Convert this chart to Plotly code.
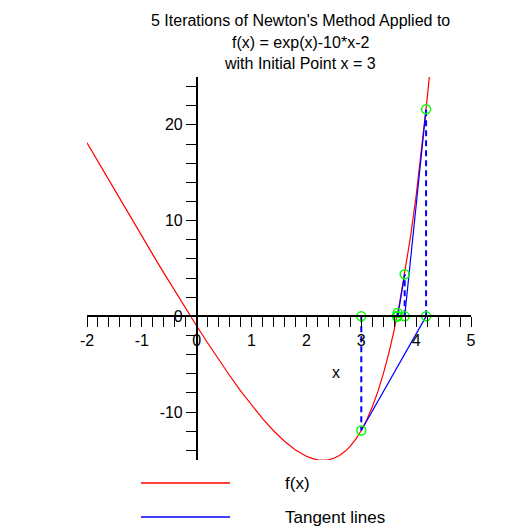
import plotly.graph_objects as go

# f(x) = exp(x) - 10x - 2, curve samples
curve_x = [-2.0, -1.8, -1.6, -1.4, -1.2, -1.0, -0.8, -0.6, -0.4, -0.2, 0.0,
           0.2, 0.4, 0.6, 0.8, 1.0, 1.2, 1.4, 1.6, 1.8, 2.0,
           2.1, 2.2, 2.3, 2.4, 2.5, 2.6, 2.7, 2.8, 2.9, 3.0,
           3.1, 3.2, 3.3, 3.4, 3.5, 3.6, 3.7, 3.8, 3.9, 4.0,
           4.1, 4.2, 4.24]
curve_y = [18.135, 16.165, 14.202, 12.247, 10.301, 8.368, 6.449, 4.549, 2.670, 0.819, -1.0,
           -2.779, -4.508, -6.178, -7.774, -9.282, -10.680, -11.945, -13.047, -13.950, -14.611,
           -14.834, -14.975, -15.026, -14.977, -14.818, -14.536, -14.120, -13.555, -12.826, -11.914,
           -10.802, -9.467, -7.887, -6.036, -3.884, -1.402, 1.447, 4.701, 8.402, 12.598,
           17.340, 22.686, 25.0]

# Newton iterates x0..x5 and f at each
iter_x = [3.0, 4.1813, 3.7911, 3.6630, 3.6510, 3.6509]
iter_f = [-11.914, 21.638, 4.393, 0.349, 0.0027, 0.0]

x_tick_vals = [-2, -1, 0, 1, 2, 3, 4, 5]
x_tick_text = ["-2", "-1", "0", "1", "2", "3", "4", "5"]
y_tick_vals = [-10, 0, 10, 20]
y_tick_text = ["-10", "0", "10", "20"]

title_lines = ["5 Iterations of Newton's Method Applied to",
               "f(x) = exp(x)-10*x-2",
               "with Initial Point x = 3"]
legend_labels = ["f(x)", "Tangent lines"]

RED = "#ff0000"
BLUE = "#0000ff"
GREEN = "#00ff00"

fig = go.Figure()

fig.add_trace(go.Scatter(x=curve_x, y=curve_y, mode="lines",
                         line=dict(color=RED, width=1.2), showlegend=False))

# tangent lines: (x_n, f(x_n)) -> (x_{n+1}, 0)
tx, ty = [], []
for i in range(len(iter_x) - 1):
    tx += [iter_x[i], iter_x[i + 1], None]
    ty += [iter_f[i], 0, None]
fig.add_trace(go.Scatter(x=tx, y=ty, mode="lines",
                         line=dict(color=BLUE, width=1.2), showlegend=False))

# vertical dashed lines (x_n, 0) -> (x_n, f(x_n))
vx, vy = [], []
for i in range(len(iter_x) - 1):
    vx += [iter_x[i], iter_x[i], None]
    vy += [0, iter_f[i], None]
fig.add_trace(go.Scatter(x=vx, y=vy, mode="lines",
                         line=dict(color=BLUE, width=2, dash="6px,4px"), showlegend=False))

# points
px, py = [], []
for i in range(len(iter_x)):
    px += [iter_x[i], iter_x[i]]
    py += [0, iter_f[i]]
fig.add_trace(go.Scatter(x=px, y=py, mode="markers",
                         marker=dict(symbol="circle-open", color=GREEN, size=9,
                                     line=dict(width=1.5, color=GREEN)),
                         showlegend=False))

# page body has an 8px margin; work in window pixels and shift
O = 8
W = H = 520
L = 87 - O
T = 77 - O
pw = 471 - 87
ph = 460 - 77
R = W - L - pw
B = H - T - ph

def px2x(p):
    return (p - O - L) / pw

def px2y(p):
    return (T + ph - (p - O)) / ph

FAM = "Liberation Sans, Arial, sans-serif"
font = dict(family=FAM, size=16, color="black")

fig.update_layout(
    width=W, height=H,
    margin=dict(l=L, r=R, t=T, b=B),
    paper_bgcolor="white", plot_bgcolor="white",
    font=font,
    showlegend=False,
    xaxis=dict(range=[-2, 5], anchor="free", position=15 / 40,
               showgrid=False, zeroline=False, showline=True, linecolor="black", linewidth=1.5,
               tickmode="array", tickvals=x_tick_vals, ticktext=x_tick_text,
               ticks="outside", ticklen=10, tickcolor="black", tickwidth=1,
               minor=dict(dtick=0.2, tick0=-2, ticks="outside", ticklen=10, tickcolor="black", tickwidth=1),
               tickfont=font),
    yaxis=dict(range=[-15, 25], anchor="free", position=2 / 7,
               showgrid=False, zeroline=False, showline=True, linecolor="black", linewidth=1.5,
               tickmode="array", tickvals=y_tick_vals, ticktext=y_tick_text,
               ticks="outside", ticklen=10, tickcolor="black", tickwidth=1,
               minor=dict(dtick=2, tick0=0, ticks="outside", ticklen=10, tickcolor="black", tickwidth=1),
               tickfont=font),
)

ann = []
for line, ypx in zip(title_lines, [20, 42, 64]):
    ann.append(dict(text=line, x=px2x(300), y=px2y(ypx), xref="paper", yref="paper",
                    xanchor="center", yanchor="middle", showarrow=False,
                    font=dict(family=FAM, size=16, color="black")))
ann.append(dict(text="x", x=px2x(336), y=px2y(372), xref="paper", yref="paper",
                xanchor="center", yanchor="middle", showarrow=False, font=font))

shapes = []
for lab, col, ypx in zip(legend_labels, [RED, BLUE], [483, 517]):
    shapes.append(dict(type="line", xref="paper", yref="paper",
                       x0=px2x(141), x1=px2x(230), y0=px2y(ypx), y1=px2y(ypx),
                       line=dict(color=col, width=1.5)))
    ann.append(dict(text=lab, x=px2x(283), y=px2y(ypx), xref="paper", yref="paper",
                    xanchor="left", yanchor="middle", showarrow=False,
                    font=dict(family=FAM, size=17, color="black")))

fig.update_layout(annotations=ann, shapes=shapes)

fig.write_html("out.html")
